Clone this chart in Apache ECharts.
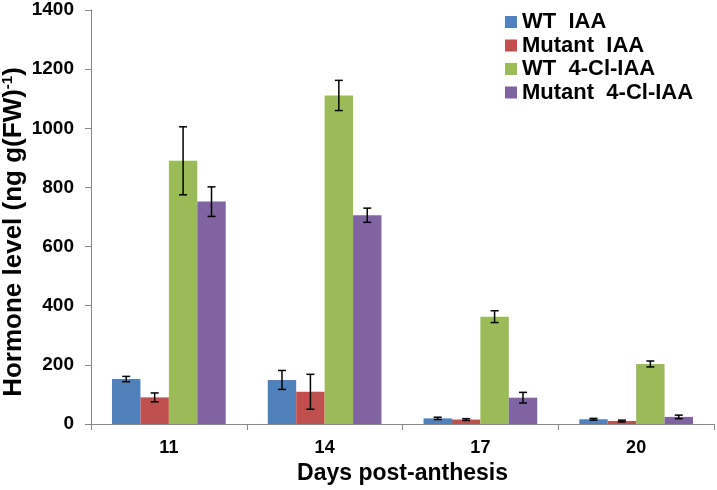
<!DOCTYPE html>
<html><head><meta charset="utf-8">
<script src="https://cdn.jsdelivr.net/npm/echarts@6/dist/echarts.min.js"></script>
<style>html,body{margin:0;padding:0;background:#fff}#c{width:717px;height:490px}</style>
</head><body><div id="c"></div>
<script>
const categories = ['11', '14', '17', '20'];
const seriesNames = ['WT  IAA', 'Mutant  IAA', 'WT  4-Cl-IAA', 'Mutant  4-Cl-IAA'];
const wtIAA = [152, 149, 19, 16];
const mutIAA = [90, 109, 15, 10];
const wtCl = [890, 1111, 363, 203];
const mutCl = [752, 706, 89, 24];
const wtIAAErr = [9, 32, 4, 3];
const mutIAAErr = [15, 59, 3, 3];
const wtClErr = [115, 51, 20, 10];
const mutClErr = [50, 24, 18, 6];
const yTicks = [0, 200, 400, 600, 800, 1000, 1200, 1400];

const values = [wtIAA, mutIAA, wtCl, mutCl];
const errs = [wtIAAErr, mutIAAErr, wtClErr, mutClErr];
const colors = ['#4F81BD', '#C0504D', '#9BBB59', '#8064A2'];
const FONT = '"Liberation Sans", Arial, sans-serif';
const GAP = 0.27;

const chart = echarts.init(document.getElementById('c'));
const series = [];
values.forEach((v, i) => {
  series.push({
    name: seriesNames[i], type: 'bar', data: v, barGap: '0%', barCategoryGap: (GAP*100)+'%',
    itemStyle: {color: colors[i]}, animation: false
  });
});
values.forEach((v, i) => {
  series.push({
    type: 'custom', animation: false, silent: true, z: 10,
    data: v.map((val, k) => [k, val, errs[i][k]]),
    renderItem: function (params, api) {
      const k = api.value(0), val = api.value(1), e = api.value(2);
      const band = api.size([1, 0])[0];
      const bw = band * (1 - GAP) / 4;
      const c = api.coord([k, val]);
      const x = c[0] + (i - 1.5) * bw;
      const yHi = api.coord([k, val + e])[1];
      const yLo = api.coord([k, Math.max(val - e, 0)])[1];
      const cap = 4;
      const st = {stroke: '#000', lineWidth: 1.5};
      return {type: 'group', children: [
        {type: 'line', shape: {x1: x, y1: yHi, x2: x, y2: yLo}, style: st},
        {type: 'line', shape: {x1: x - cap, y1: yHi, x2: x + cap, y2: yHi}, style: st},
        {type: 'line', shape: {x1: x - cap, y1: yLo, x2: x + cap, y2: yLo}, style: st}
      ]};
    }
  });
});

chart.setOption({
  animation: false,
  grid: {left: 91, right: 3, top: 10, bottom: 66, containLabel: false},
  legend: {
    data: seriesNames, orient: 'vertical', left: 500, top: 6, itemWidth: 12, itemHeight: 12,
    itemGap: 1.5, icon: 'rect',
    textStyle: {fontFamily: FONT, fontWeight: 'bold', fontSize: 22, lineHeight: 18, color: '#000'}
  },
  graphic: [{
    type: 'text', x: 14, y: 232, rotation: Math.PI / 2,
    style: {
      text: '{m|Hormone level (ng g(FW)}{s|-1}{m|)}',
      textAlign: 'center', textVerticalAlign: 'middle',
      rich: {
        m: {fontFamily: FONT, fontWeight: 'bold', fontSize: 26, fill: '#000'},
        s: {fontFamily: FONT, fontWeight: 'bold', fontSize: 15, fill: '#000', verticalAlign: 'top', padding: [0, 0, 12, 0]}
      }
    }
  }],
  xAxis: {
    type: 'category', data: categories,
    axisLine: {lineStyle: {color: '#888', width: 1}},
    axisTick: {show: true, length: 6, lineStyle: {color: '#888'}},
    axisLabel: {fontFamily: FONT, fontWeight: 'bold', fontSize: 18, color: '#000', margin: 15},
    name: 'Days post-anthesis', nameLocation: 'middle', nameGap: 35,
    nameTextStyle: {fontFamily: FONT, fontWeight: 'bold', fontSize: 23, color: '#000'}
  },
  yAxis: {
    type: 'value', min: 0, max: 1400, interval: 200,
    axisLine: {show: true, lineStyle: {color: '#888', width: 1}},
    axisTick: {show: true, length: 6, lineStyle: {color: '#888'}},
    splitLine: {show: false},
    axisLabel: {fontFamily: FONT, fontWeight: 'bold', fontSize: 19, color: '#000', margin: 17,
      formatter: v => yTicks.includes(v) ? String(v) : ''}
  },
  series: series
});
</script>
</body></html>
